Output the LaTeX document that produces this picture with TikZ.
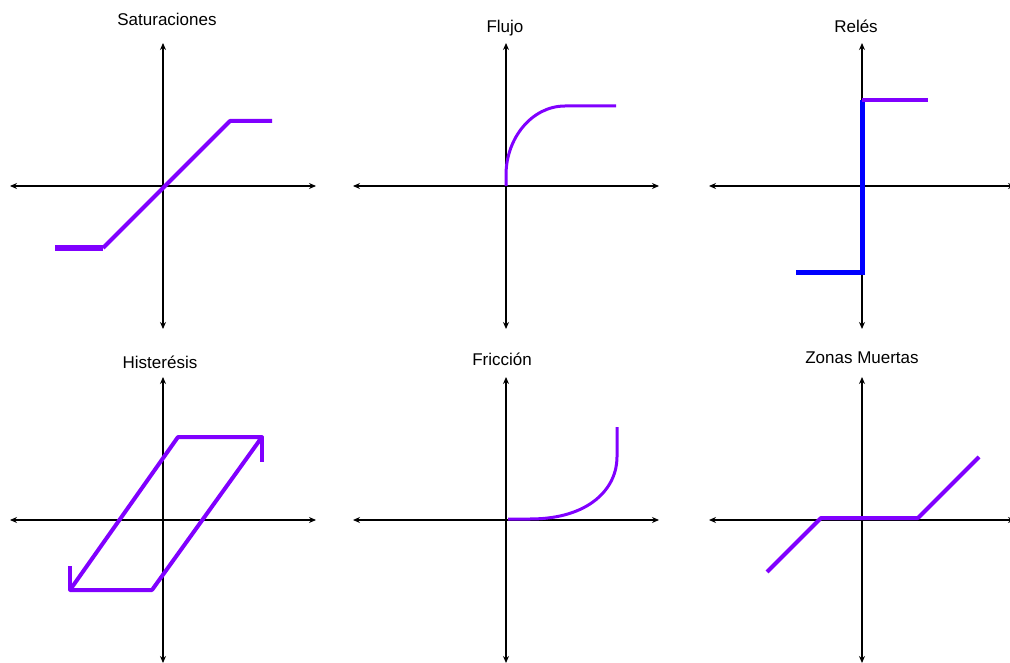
\documentclass[tikz,border=0pt]{standalone}
\usepackage{fontspec}
\setmainfont{Liberation Sans}
\usetikzlibrary{arrows.meta}
\definecolor{ink}{HTML}{000000}
\definecolor{plum}{HTML}{8000FF}
\definecolor{relay}{HTML}{0000FF}

\begin{document}
\begin{tikzpicture}[x=1pt,y=-1pt,
  axis/.style={draw=ink,line width=1.2pt,
               {Stealth[length=7pt,width=6pt]}-{Stealth[length=7pt,width=6pt]}},
  curve/.style={draw=plum,line width=4pt,line join=round},
  title/.style={font=\fontsize{17}{20}\selectfont,text=ink,inner sep=0pt,anchor=base}]
  \useasboundingbox (0,0) rectangle (1010,663);
  % ejes de los seis diagramas
  \foreach \cx/\cy/\nm in {163/186/sat,506/186/flu,862/186/rel,
                           163/520/hys,506/520/fri,862/520/zon}{
    \coordinate (\nm) at (\cx,\cy);
    \draw[axis] (\cx-153,\cy) -- (\cx+153,\cy);
    \draw[axis] (\cx,\cy-143) -- (\cx,\cy+143);
  }
  % titulos
  \node[title] (tsat) at (167,26) {Saturaciones};
  \node[title] (tflu) at (505,33) {Flujo};
  \node[title] (trel) at (856,33) {Relés};
  \node[title] (thys) at (160,368) {Histerésis};
  \node[title] (tfri) at (502,365) {Fricción};
  \node[title] (tzon) at (862,363) {Zonas Muertas};
  % curvas
  \draw[curve,line width=6pt] (55,248) -- (103,248);
  \draw[curve] (103,248) -- (230,121) -- (272,121);
  \draw[curve,line width=3pt] (506,186) -- (506,175) .. controls (506,138) and (532,106) .. (565,106) -- (616,106);
  \draw[curve,draw=relay,line width=5pt,line join=miter] (862,100) -- (862,273) -- (796,273);
  \draw[curve] (862,100) -- (928,100);
  \draw[curve] (178,437) -- (262,437) -- (152,590) -- (70,590) -- cycle;
  \draw[curve] (262,437) -- (262,462);
  \draw[curve] (70,590) -- (70,566);
  \draw[curve,line width=3pt] (508,519) -- (530,519) .. controls (590,519) and (617,488) .. (617,457) -- (617,427);
  \draw[curve] (767,572) -- (821,518) -- (918,518) -- (979,457);
\end{tikzpicture}
\end{document}
